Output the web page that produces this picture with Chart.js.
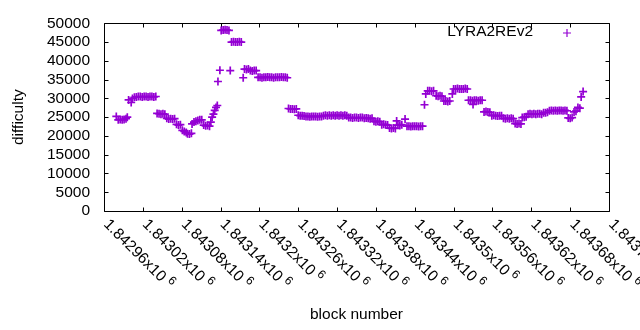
<!DOCTYPE html>
<html><head><meta charset="utf-8">
<script src="https://cdn.jsdelivr.net/npm/chart.js@4"></script>
<style>html,body{margin:0;padding:0;background:#fff}canvas{display:block}</style>
</head><body>
<canvas id="c" width="640" height="330"></canvas>
<script>
const seriesName = 'LYRA2REv2';
const blocks = [
1842979,1842982,1842985,1842988,1842991,1842994,1842996,
1842998,1843002,
1843004,1843007,1843010,1843013,1843016,1843019,1843022,1843025,1843028,1843031,1843034,1843037,1843040,
1843042,1843045,1843048,1843051,1843054,
1843057,1843060,1843063,1843066,1843069,
1843072,1843075,1843078,
1843081,1843084,1843087,
1843089,1843092,1843095,
1843096,1843099,1843102,
1843105,1843108,1843111,
1843114,1843117,1843120,1843123,
1843125,1843127,1843129,1843131,1843133,1843135,1843136,1843139,
1843141,1843144,1843147,1843150,1843153,1843155,
1843157,1843160,1843163,1843166,1843169,1843172,1843175,
1843177,1843180,1843183,
1843186,1843189,1843192,1843195,
1843198,1843201,1843204,1843207,1843210,1843213,1843216,1843219,1843222,1843225,1843228,1843231,1843234,1843237,1843240,1843243,
1843245,1843248,1843251,1843254,1843257,
1843260,1843263,1843266,1843269,
1843272,1843275,1843278,1843281,1843284,1843287,1843290,1843293,1843296,
1843299,1843302,1843305,1843308,1843311,1843314,1843317,1843320,1843323,1843326,1843329,1843332,1843335,
1843338,1843341,1843344,1843347,1843350,1843353,1843356,1843359,
1843362,1843365,1843368,1843371,1843374,
1843377,1843380,1843383,1843386,
1843389,1843392,1843395,1843398,
1843401,1843404,1843407,1843410,1843412,
1843414,1843417,1843420,1843425,
1843428,1843431,1843434,1843437,1843440,1843443,1843446,1843449,1843452,
1843455,1843457,1843460,1843463,1843466,1843469,
1843473,1843476,1843479,1843482,
1843485,1843488,1843491,1843494,1843498,
1843500,1843503,1843506,1843509,1843512,1843515,1843518,1843521,
1843523,1843526,1843529,1843530,1843532,1843535,1843538,1843541,1843544,
1843547,1843550,1843553,1843556,
1843559,1843562,1843565,1843568,1843571,1843574,
1843577,1843580,1843583,1843586,1843589,1843592,
1843595,1843598,1843601,1843604,
1843606,1843609,1843612,
1843615,1843618,1843621,1843624,1843627,1843630,1843633,1843636,
1843639,1843642,1843645,
1843648,1843651,1843654,1843657,1843660,1843663,1843666,1843669,1843672,1843675,
1843677,1843680,1843683,
1843686,1843689,
1843692,1843695,1843697,1843700
];
const difficulty = [
25200,24300,24400,24300,24400,24600,25000,
29600,28900,
30000,30300,30400,30500,30500,30400,30500,30500,30400,30500,30500,30400,30500,
26000,25900,25800,25900,25800,
24700,24500,24600,24500,24600,
23100,22900,23000,
21500,21200,20900,
20600,20500,20700,
23200,23700,23900,
24100,24300,24300,
22900,22700,22800,22600,
23700,25000,25800,26800,27600,28100,34500,37500,
48100,48200,48300,48200,48100,37400,
45000,45100,45000,45000,45100,45000,35500,
37800,37700,37800,
37400,37300,37400,37400,
35600,35600,35500,35600,35600,35700,35600,35600,35500,35600,35600,35600,35700,35600,35600,35500,
27300,27200,27200,27100,27200,
25500,25400,25400,25300,
25200,25200,25100,25200,25200,25200,25100,25200,25200,
25400,25500,25400,25500,25400,25500,25400,25500,25400,25500,25400,25500,25400,
24900,24900,24800,24900,24900,24800,24900,24900,
24700,24800,24700,24600,24700,
23900,23800,23900,23800,
23000,23100,23000,22900,
22100,22000,22100,22000,24000,
22900,22800,23000,24500,
22600,22600,22500,22600,22600,22600,22500,22600,22600,
28300,31200,32000,32000,31900,32000,
30700,30600,30700,30600,
29300,29300,29200,29300,31200,
32500,32500,32600,32500,32500,32500,32600,32500,
29500,29500,29400,28400,29500,29500,29400,29500,29500,
26400,26500,26400,26300,
25400,25500,25400,25300,25400,25400,
24700,24600,24700,24600,24700,24600,
23300,23200,23300,23200,
24900,25000,25100,
25800,25900,25800,25900,25800,25900,25900,25800,
26200,26200,26300,
26700,26800,26700,26800,26700,26800,26800,26700,26800,26700,
24800,24700,24900,
26400,26600,
27600,27400,30400,31800
];
const xTickValues = [1842960,1843020,1843080,1843140,1843200,1843260,1843320,1843380,1843440,1843500,1843560,1843620,1843680,1843740];
const xTickMantissa = ['1.84296','1.84302','1.84308','1.84314','1.8432','1.84326','1.84332','1.84338','1.84344','1.8435','1.84356','1.84362','1.84368','1.84374'];
const xTickExponent = '6';
const yTickValues = [0,5000,10000,15000,20000,25000,30000,35000,40000,45000,50000];

const FONT = "'Liberation Sans', Arial, sans-serif";
const FS = 15.5;
const PURPLE = '#9400d3';
const TICK = 4;

const framePlugin = {
  id: 'frame',
  beforeDatasetsDraw(chart) {
    const {ctx, chartArea: a, scales: {x, y}} = chart;
    ctx.save();
    ctx.strokeStyle = '#000';
    ctx.lineWidth = 1;
    const L = Math.round(a.left) + 0.5, R = Math.round(a.right) + 0.5;
    const T = Math.round(a.top) + 0.5, B = Math.round(a.bottom) + 0.5;
    ctx.beginPath();
    ctx.rect(L, T, R - L, B - T);
    for (const v of yTickValues) {
      const py = Math.round(y.getPixelForValue(v)) + 0.5;
      ctx.moveTo(L, py); ctx.lineTo(L + TICK, py);
      ctx.moveTo(R, py); ctx.lineTo(R - TICK, py);
    }
    for (const v of xTickValues) {
      const px = Math.round(x.getPixelForValue(v)) + 0.5;
      ctx.moveTo(px, B); ctx.lineTo(px, B - TICK);
      ctx.moveTo(px, T); ctx.lineTo(px, T + TICK);
    }
    ctx.stroke();
    ctx.restore();
  },
  afterDraw(chart) {
    const {ctx, chartArea: a, scales: {x}} = chart;
    ctx.save();
    ctx.fillStyle = '#000';
    xTickValues.forEach((v, i) => {
      const px = x.getPixelForValue(v);
      ctx.save();
      ctx.translate(px + 2, a.bottom + 11);
      ctx.rotate(Math.PI / 4);
      ctx.textAlign = 'left';
      ctx.textBaseline = 'middle';
      ctx.font = FS + 'px ' + FONT;
      const main = xTickMantissa[i] + 'x10';
      ctx.fillText(main, 0, 0);
      const w = ctx.measureText(main).width;
      ctx.font = '12px ' + FONT;
      ctx.fillText(xTickExponent, w + 4, -5);
      ctx.restore();
    });
    ctx.font = FS + 'px ' + FONT;
    ctx.textAlign = 'right';
    ctx.textBaseline = 'middle';
    ctx.fillStyle = '#000';
    ctx.fillText(seriesName, 533, 32);
    ctx.restore();
    ctx.save();
    ctx.strokeStyle = PURPLE;
    ctx.lineWidth = 1.2;
    ctx.beginPath();
    ctx.moveTo(563, 33); ctx.lineTo(571, 33);
    ctx.moveTo(567, 29); ctx.lineTo(567, 37);
    ctx.stroke();
    ctx.restore();
  }
};

Chart.defaults.font.family = FONT;
Chart.defaults.color = '#000';

new Chart(document.getElementById('c'), {
  type: 'scatter',
  data: {
    datasets: [{
      label: seriesName,
      data: blocks.map((b, i) => ({x: b, y: difficulty[i]})),
      pointStyle: 'cross',
      pointRadius: 4,
      pointBorderWidth: 1.7,
      borderColor: PURPLE,
      backgroundColor: PURPLE,
      showLine: false
    }]
  },
  options: {
    responsive: false,
    animation: false,
    devicePixelRatio: 1,
    layout: {padding: {top: 19, right: 31, left: 0, bottom: 0}},
    plugins: {legend: {display: false}, tooltip: {enabled: false}},
    scales: {
      x: {
        type: 'linear',
        min: 1842960, max: 1843740,
        afterBuildTicks: s => { s.ticks = xTickValues.map(v => ({value: v})); },
        afterFit: s => { s.height = 119; },
        ticks: {display: false},
        grid: {display: false, drawTicks: false},
        border: {display: false},
        title: {display: true, text: 'block number', font: {size: FS}, padding: {top: 0, bottom: 6}}
      },
      y: {
        min: 0, max: 50000,
        afterBuildTicks: s => { s.ticks = yTickValues.map(v => ({value: v})); },
        afterFit: s => { s.width = 104; },
        ticks: {font: {size: FS}, padding: 14, autoSkip: false, callback: v => String(v)},
        grid: {display: false, drawTicks: false},
        border: {display: false},
        title: {display: true, text: 'difficulty', font: {size: FS}, padding: {top: 9, bottom: 0}}
      }
    }
  },
  plugins: [framePlugin]
});
</script>
</body></html>
